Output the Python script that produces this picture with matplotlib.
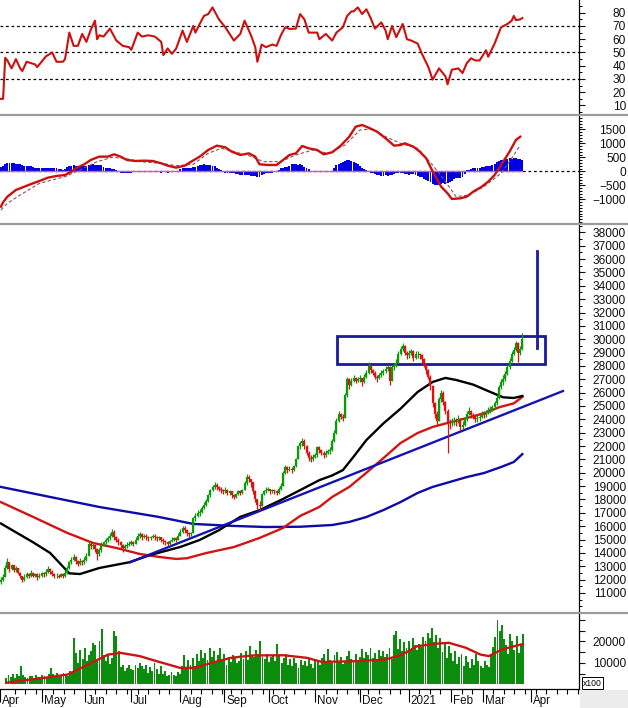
import numpy as np
import pandas as pd
import matplotlib
matplotlib.use('Agg')
import matplotlib.pyplot as plt
import matplotlib.transforms as mtransforms
from matplotlib.patches import Rectangle
from matplotlib.lines import Line2D
from matplotlib.ticker import MultipleLocator

plt.rcParams['font.family'] = ['Liberation Sans', 'DejaVu Sans']

# trading calendar, index 0 = 2020-04-01 (market holidays removed)
holidays = ['2020-04-02', '2020-04-30', '2020-05-01', '2020-09-02', '2021-01-01',
            '2021-02-10', '2021-02-11', '2021-02-12', '2021-02-15', '2021-02-16']
month_starts = ['2020-04', '2020-05', '2020-06', '2020-07', '2020-08', '2020-09', '2020-10',
                '2020-11', '2020-12', '2021-01', '2021-02', '2021-03', '2021-04']
month_labels = ['Apr', 'May', 'Jun', 'Jul', 'Aug', 'Sep', 'Oct', 'Nov', 'Dec', '2021', 'Feb', 'Mar', 'Apr']
first_day = 3  # first bar = 2020-04-07

# daily prices (thousands)
closes = [12.0, 12.2, 12.9, 13.3, 12.8, 13.1, 12.7, 12.9, 12.5, 12.3,
          12.0, 12.2, 12.4, 12.3, 12.5, 12.3, 12.4, 12.2, 12.3, 12.5,
          12.4, 12.6, 12.8, 12.6, 12.4, 12.3, 12.3, 12.2, 12.4, 12.3,
          12.5, 12.9, 13.3, 13.5, 13.7, 13.4, 13.2, 13.4, 13.3, 13.5,
          13.8, 14.7, 14.5, 14.6, 14.3, 13.9, 14.2, 14.6, 14.8, 15.0,
          15.1, 15.3, 15.6, 15.2, 15.0, 14.8, 14.6, 14.4, 14.5, 14.6,
          14.7, 14.8, 14.7, 15.0, 15.3, 15.4, 15.2, 15.3, 15.2, 15.1,
          15.2, 15.3, 15.2, 15.1, 15.2, 15.0, 14.9, 14.8, 14.7, 14.9,
          15.0, 15.1, 15.0, 15.3, 15.6, 15.9, 15.7, 15.5, 15.4, 15.5,
          16.6, 16.8, 17.0, 17.1, 17.4, 17.6, 17.9, 18.3, 18.7, 18.9,
          19.1, 18.9, 18.8, 18.7, 18.6, 18.7, 18.5, 18.6, 18.3, 18.2,
          18.4, 18.6, 18.5, 18.7, 19.2, 19.7, 19.5, 19.3, 18.6, 18.0,
          17.6, 17.5, 18.4, 18.6, 18.7, 18.8, 18.6, 18.7, 18.6, 18.5,
          18.8, 19.0, 20.0, 20.4, 20.2, 20.3, 20.2, 20.5, 21.0, 22.0,
          22.2, 22.4, 22.0, 21.5, 21.1, 21.0, 21.2, 21.3, 21.9, 21.7,
          21.5, 21.3, 21.5, 21.6, 21.7, 22.4, 23.0, 23.9, 24.4, 24.2,
          24.1, 25.8, 27.0, 26.6, 26.9, 27.1, 26.9, 27.0, 27.1, 26.8,
          27.2, 27.5, 28.0, 27.7, 27.5, 27.2, 27.1, 27.3, 27.5, 27.6,
          27.8, 27.9, 26.9, 27.9, 28.0, 28.2, 28.9, 29.3, 29.5, 29.0,
          28.8, 29.0, 29.1, 28.6, 28.9, 28.9, 28.8, 28.5, 28.1, 27.7,
          27.2, 26.5, 25.2, 24.4, 23.9, 25.5, 26.0, 25.3, 24.6, 23.8,
          23.7, 23.8, 23.9, 23.8, 24.0, 23.4, 23.6, 24.0, 24.4, 24.6,
          24.3, 24.2, 24.0, 24.1, 24.2, 24.4, 24.3, 24.5, 24.7, 24.8,
          24.9, 25.2, 25.6, 26.4, 26.8, 27.0, 27.4, 27.9, 28.4, 28.9,
          29.2, 29.7, 29.0, 29.3, 30.0]
highs = [12.2, 12.4, 13.1, 13.6, 13.3, 13.2, 13.1, 13.0, 12.9, 12.6,
         12.3, 12.4, 12.6, 12.5, 12.7, 12.6, 12.5, 12.5, 12.5, 12.6,
         12.6, 12.8, 13.0, 12.9, 12.7, 12.5, 12.5, 12.4, 12.5, 12.5,
         12.7, 13.0, 13.4, 13.7, 13.9, 13.8, 13.5, 13.6, 13.5, 13.7,
         14.0, 14.9, 14.9, 14.8, 14.7, 14.4, 14.4, 14.8, 14.9, 15.1,
         15.3, 15.5, 15.8, 15.7, 15.3, 15.1, 14.9, 14.7, 14.7, 14.8,
         14.9, 15.0, 14.9, 15.2, 15.5, 15.6, 15.5, 15.4, 15.4, 15.3,
         15.3, 15.4, 15.4, 15.3, 15.3, 15.2, 15.1, 15.0, 14.9, 15.0,
         15.2, 15.2, 15.2, 15.5, 15.8, 16.0, 16.0, 15.8, 15.6, 15.6,
         16.7, 17.0, 17.2, 17.3, 17.5, 17.8, 18.0, 18.4, 18.8, 19.1,
         19.3, 19.2, 19.0, 18.9, 18.8, 18.9, 18.8, 18.7, 18.6, 18.4,
         18.5, 18.7, 18.7, 18.8, 19.4, 19.9, 19.8, 19.5, 19.3, 18.7,
         18.0, 17.9, 18.5, 18.7, 18.9, 18.9, 18.8, 18.8, 18.8, 18.7,
         18.9, 19.2, 20.1, 20.6, 20.5, 20.5, 20.4, 20.6, 21.1, 22.1,
         22.4, 22.6, 22.5, 22.1, 21.6, 21.3, 21.4, 21.5, 22.0, 22.0,
         21.8, 21.6, 21.7, 21.8, 21.9, 22.5, 23.2, 24.1, 24.6, 24.5,
         24.4, 26.0, 27.2, 27.1, 27.1, 27.3, 27.2, 27.2, 27.3, 27.1,
         27.4, 27.7, 28.3, 28.1, 27.8, 27.6, 27.3, 27.5, 27.7, 27.8,
         28.0, 28.1, 28.0, 28.1, 28.2, 28.5, 29.1, 29.5, 29.7, 29.6,
         29.1, 29.2, 29.3, 29.2, 29.1, 29.1, 29.0, 28.9, 28.6, 28.2,
         27.8, 27.3, 26.6, 25.3, 24.6, 25.7, 26.2, 26.1, 25.4, 24.8,
         24.0, 24.1, 24.2, 24.1, 24.3, 24.1, 23.9, 24.2, 24.6, 24.9,
         24.7, 24.5, 24.3, 24.3, 24.4, 24.6, 24.6, 24.7, 24.9, 25.0,
         25.1, 25.4, 25.8, 26.6, 27.0, 27.3, 27.6, 28.1, 28.6, 29.1,
         29.4, 29.9, 29.8, 29.5, 30.5]
lows = [11.7, 11.9, 12.2, 12.8, 12.6, 12.7, 12.6, 12.6, 12.4, 12.1,
        11.8, 11.9, 12.1, 12.1, 12.2, 12.2, 12.2, 12.0, 12.1, 12.2,
        12.2, 12.3, 12.5, 12.4, 12.3, 12.1, 12.1, 12.1, 12.2, 12.1,
        12.2, 12.4, 12.8, 13.2, 13.4, 13.2, 13.0, 13.1, 13.1, 13.2,
        13.4, 13.8, 14.3, 14.3, 14.1, 13.5, 13.8, 14.1, 14.5, 14.7,
        14.8, 15.0, 15.2, 15.0, 14.8, 14.6, 14.4, 14.1, 14.2, 14.4,
        14.5, 14.6, 14.5, 14.7, 15.0, 15.1, 15.0, 15.1, 15.0, 14.9,
        15.0, 15.1, 15.0, 14.9, 15.0, 14.8, 14.7, 14.6, 14.5, 14.6,
        14.8, 14.9, 14.8, 15.0, 15.3, 15.5, 15.5, 15.3, 15.2, 15.3,
        15.5, 16.4, 16.7, 16.8, 17.0, 17.3, 17.5, 17.8, 18.2, 18.6,
        18.8, 18.7, 18.6, 18.5, 18.4, 18.5, 18.3, 18.3, 18.1, 18.0,
        18.1, 18.3, 18.3, 18.4, 18.7, 19.1, 19.3, 18.9, 18.4, 17.8,
        17.3, 17.2, 17.5, 18.3, 18.5, 18.6, 18.4, 18.5, 18.4, 18.3,
        18.4, 18.7, 19.0, 19.9, 20.0, 20.1, 20.0, 20.1, 20.4, 21.0,
        21.8, 22.0, 21.8, 21.3, 20.9, 20.8, 20.9, 21.1, 21.2, 21.5,
        21.3, 21.1, 21.2, 21.4, 21.4, 21.6, 22.3, 22.9, 23.8, 24.0,
        23.9, 24.1, 25.7, 26.3, 26.5, 26.8, 26.7, 26.8, 26.8, 26.5,
        26.7, 27.1, 27.4, 27.5, 27.3, 27.0, 26.8, 27.0, 27.2, 27.3,
        27.5, 27.6, 26.6, 26.9, 27.7, 27.9, 28.2, 28.8, 29.1, 28.8,
        28.5, 28.6, 28.8, 28.4, 28.5, 28.6, 28.5, 28.2, 27.9, 27.4,
        27.0, 26.2, 24.9, 24.1, 23.6, 23.9, 25.3, 25.1, 24.4, 21.5,
        23.3, 23.5, 23.6, 23.5, 23.7, 23.2, 23.3, 23.5, 23.9, 24.3,
        24.1, 24.0, 23.8, 23.8, 23.9, 24.1, 24.1, 24.2, 24.4, 24.5,
        24.6, 24.8, 25.1, 25.5, 26.3, 26.6, 26.9, 27.3, 27.8, 28.3,
        28.8, 29.1, 28.3, 28.8, 29.2]

# daily volume (x100, thousands)
volumes = [3.0, 4.2, 3.5, 4.8, 3.2, 5.0, 4.0, 8.5, 4.4, 3.6,
           3.0, 4.1, 3.8, 2.9, 4.5, 3.7, 3.3, 4.6, 3.9, 3.4,
           4.8, 7.7, 4.9, 3.8, 5.3, 4.2, 3.9, 5.5, 4.6, 4.1,
           6.2, 5.4, 21.7, 14.5, 9.8, 16.2, 12.0, 17.0, 10.8, 13.5,
           15.5, 19.5, 18.6, 11.2, 20.0, 25.6, 13.8, 11.0, 14.0, 9.5,
           12.4, 24.8, 22.5, 15.6, 8.2, 9.3, 6.5, 7.8, 8.9, 7.2,
           6.8, 9.0, 7.5, 10.0, 8.4, 7.0, 9.3, 5.5, 8.0, 6.3,
           10.0, 7.4, 4.7, 8.6, 5.0, 6.2, 3.9, 4.5, 5.8, 4.2,
           3.9, 6.0, 5.1, 8.7, 13.8, 7.7, 11.2, 9.0, 12.5, 8.4,
           14.0, 10.9, 16.0, 12.2, 14.7, 11.5, 17.0, 13.0, 15.8, 10.9,
           13.6, 17.2, 11.5, 14.0, 9.3, 12.8, 10.6, 13.5, 12.1, 9.8,
           11.0, 14.5, 12.0, 15.6, 11.2, 17.8, 13.4, 12.6, 16.0, 14.2,
           20.1, 13.0, 11.8, 14.0, 10.4, 12.6, 13.8, 11.0, 18.9, 13.2,
           10.2, 12.5, 14.0, 9.1, 11.8, 8.7, 12.4, 10.0, 7.7, 11.5,
           9.2, 10.8, 8.4, 12.0, 9.6, 7.9, 11.1, 10.3, 9.3, 12.2,
           14.0, 10.6, 16.3, 11.2, 9.8, 13.5, 15.0, 10.4, 12.8, 9.5,
           11.0, 13.2, 15.8, 12.0, 10.7, 14.4, 11.6, 13.0, 16.3, 12.4,
           15.0, 13.6, 17.0, 12.2, 14.5, 11.6, 16.0, 13.2, 15.4, 12.8,
           14.2, 17.0, 11.8, 23.0, 24.8, 16.5, 21.0, 15.5, 19.6, 17.2,
           20.0, 16.0, 21.7, 18.4, 15.9, 19.0, 17.5, 22.2, 20.0, 24.0,
           21.4, 26.4, 19.6, 23.0, 16.8, 21.7, 15.0, 19.8, 12.4, 18.0,
           14.8, 11.0, 15.5, 9.6, 12.6, 14.0, 8.5, 13.2, 10.4, 7.7,
           12.0, 9.2, 14.4, 11.0, 8.5, 7.7, 10.9, 9.0, 8.2, 14.0,
           17.5, 22.0, 30.2, 24.8, 27.9, 21.0, 18.5, 14.0, 23.3, 20.0,
           16.2, 22.5, 14.5, 19.0, 23.3]

# MACD histogram, daily
macd_hist = [170, 180, 260, 290, 300, 295, 290, 285, 280, 260,
             230, 210, 200, 205, 190, 160, 140, 135, 140, 130,
             135, 140, 130, 135, 140, 130, 120, 100, 80, 70,
             80, 150, 210, 200, 215, 205, 200, 210, 215, 205,
             210, 220, 240, 250, 240, 230, 235, 220, 150, 120,
             110, 115, 100, 90, 60, 20, -40, -60, -70, -55,
             -50, -40, -10, 20, 25, 30, 20, 25, 20, 15,
             20, 10, 0, -10, -30, -40, -35, -30, -40, -35,
             -30, -20, -10, 20, 80, 130, 140, 135, 130, 140,
             150, 170, 200, 230, 240, 250, 230, 220, 235, 210,
             180, 120, 100, 40, -20, -50, -60, -55, -70, -60,
             -80, -100, -120, -140, -120, -110, -130, -150, -160, -170,
             -180, -190, -120, -80, -60, -50, -40, -60, -30, 0,
             60, 110, 140, 150, 160, 200, 250, 270, 260, 240,
             250, 230, 150, 110, 80, 20, -10, -20, -30, -20,
             -25, -30, -20, -15, -10, 30, 120, 230, 260, 300,
             350, 390, 410, 400, 380, 340, 320, 280, 200, 120,
             100, 60, 10, -40, -60, -80, -120, -140, -150, -145,
             -140, -150, -130, -110, -90, -70, -60, -50, -40, -80,
             -100, -110, -100, -90, -130, -170, -180, -200, -260, -300,
             -330, -380, -430, -480, -500, -470, -440, -420, -430, -400,
             -380, -330, -280, -250, -240, -220, -200, -100, 40, 70,
             90, 110, 130, 140, 135, 150, 170, 190, 200, 210,
             220, 250, 330, 380, 400, 420, 440, 450, 470, 460,
             470, 480, 450, 430, 400]

# moving averages read at chosen days
ma_black_days = [3, 18, 26, 35, 40, 49, 63, 73, 87, 96, 105, 115, 124, 134, 143, 152, 158, 163,
                 168, 174, 182, 190, 198, 205, 211, 216, 224, 232, 238, 243, 247]
ma_black = [16200, 14800, 14000, 12470, 12420, 12870, 13300, 13850, 14450, 14970, 15700, 16700,
            17200, 17960, 18700, 19450, 19800, 20200, 21200, 22450, 23700, 24800, 26050, 26800,
            27100, 26950, 26600, 26050, 25650, 25600, 25750]
ma_red_days = [3, 18, 34, 46, 57, 68, 77, 85, 90, 99, 112, 124, 135, 143, 152, 158, 166, 174,
               182, 190, 198, 205, 212, 221, 230, 236, 243, 247]
ma_red = [17800, 16700, 15500, 14750, 14370, 13920, 13700, 13550, 13600, 13990, 14440, 15120,
          15870, 16770, 17440, 18190, 18940, 20000, 21100, 22230, 22980, 23430, 23730, 24100,
          24500, 24900, 25200, 25680]
ma_blue_days = [3, 49, 77, 93, 112, 127, 143, 158, 166, 174, 182, 190, 198, 205, 213, 221, 229,
                237, 243, 247]
ma_blue = [18940, 17440, 16690, 16170, 16020, 15940, 15960, 16090, 16320, 16690, 17210, 17810,
           18490, 18940, 19310, 19680, 19980, 20430, 20810, 21400]
vol_ma_days = [3, 21, 32, 40, 51, 57, 66, 74, 85, 92, 100, 109, 119, 134, 145, 152, 168, 182,
               190, 197, 205, 212, 220, 227, 231, 237, 246, 247]
vol_ma = [800, 3100, 4650, 8500, 13900, 14700, 13200, 10850, 7750, 7750, 10080, 12400, 13500,
          13600, 12400, 10500, 10850, 11600, 13900, 17800, 18900, 19400, 17100, 13900, 13200,
          16300, 18600, 18700]

# RSI
rsi_days = [3, 4, 5, 6, 8, 10, 12, 13, 15, 17, 19, 20, 22, 24, 26, 27, 29, 32, 33, 35, 37, 39,
            41, 43, 45, 47, 48, 49, 51, 54, 57, 60, 63, 64, 67, 69, 72, 75, 78, 79, 81, 83, 85,
            88, 90, 93, 94, 96, 98, 100, 102, 105, 108, 110, 112, 115, 117, 120, 122, 123, 125,
            127, 130, 132, 134, 136, 138, 141, 143, 145, 147, 151, 152, 155, 158, 160, 163, 165,
            167, 168, 170, 172, 174, 176, 178, 181, 183, 184, 186, 188, 191, 193, 195, 198, 200,
            203, 205, 208, 211, 212, 214, 217, 219, 221, 223, 225, 227, 230, 231, 234, 237, 240,
            242, 243, 244, 246, 247]
rsi = [15, 15, 46, 44, 38, 45, 38, 36, 43, 42, 41, 39, 43, 47, 49, 50, 43, 43, 45, 65, 55, 55,
       64, 58, 67, 74, 60, 63, 62, 68, 59, 55, 54, 52, 65, 62, 63, 62, 58, 48, 53, 49, 53,
       66.5, 58, 70, 65, 71.5, 77.6, 79, 84, 75, 69, 64, 59, 64, 74, 63, 54, 43, 56,
       54, 56, 55, 63, 69, 67.8, 68, 79, 75, 65, 65, 60, 64, 59, 65, 69, 77.6,
       81, 81, 84, 79, 82.6, 76, 68, 72.7, 66.5, 60, 70, 61.6, 71.5, 60, 59, 56.7, 49,
       39, 29.5, 38, 32, 26, 37, 38, 34.5, 42, 45.6, 44, 44, 51.7, 46.8, 56.7, 69, 71.5,
       74, 77.6, 74.4, 75, 76]

# MACD and signal lines
macd_days = [3, 4, 6, 10, 14, 18, 21, 25, 29, 33, 36, 38, 42, 45, 49, 53, 56, 59, 62, 66, 70,
             74, 78, 81, 85, 89, 92, 96, 100, 104, 108, 111, 115, 119, 122, 124, 128, 132, 135,
             138, 141, 144, 147, 151, 154, 158, 162, 166, 169, 172, 175, 179, 183, 187, 190, 192,
             196, 199, 202, 205, 209, 212, 214, 218, 221, 224, 228, 231, 234, 237, 241, 244, 246]
macd = [-1256, -1100, -900, -660, -540, -422, -339, -220, -160, -125, -6, 113, 256, 410, 530,
        530, 613, 530, 410, 375, 387, 375, 292, 208, 137, 208, 351, 530, 768, 922, 863, 708,
        589, 648, 530, 256, 232, 232, 410, 589, 648, 910, 827, 768, 613, 684, 922, 1243, 1600,
        1660, 1565, 1422, 1184, 922, 946, 1006, 886, 708, 470, 6, -542, -780, -982, -958, -898,
        -720, -542, -363, -125, 232, 708, 1125, 1243]
signal_days = [3, 6, 12, 21, 33, 40, 48, 55, 61, 68, 78, 85, 93, 100, 106, 111, 119, 126, 134,
               141, 149, 156, 164, 171, 177, 183, 190, 198, 205, 211, 216, 222, 229, 237, 242, 246]
signal = [-1375, -1137, -839, -422, -184, 54, 351, 506, 470, 351, 292, 208, 256, 648, 827, 732,
          565, 351, 351, 589, 768, 648, 946, 1481, 1517, 1243, 1006, 827, 232, -363, -898, -839,
          -542, -65, 470, 946]

# annotation lines drawn on the price panel
trend_days = [63.4, 266.0]
trend_prices = [13300, 26120]
box_days = [160.3, 257.6]
box_prices = [28150, 30250]
target_day = 253.9
target_prices = [29340, 36600]

# ---------------------------------------------------------------------------
cal = pd.bdate_range('2020-04-01', '2021-05-31')
cal = cal[~cal.isin(pd.to_datetime(holidays))]
month_idx = [int(np.searchsorted(cal, pd.Timestamp(m + '-01'))) for m in month_starts]
week_idx = [i for i in range(1, len(cal)) if cal[i].weekday() < cal[i - 1].weekday()]

n = len(closes)
days = np.arange(first_day, first_day + n)
c = np.array(closes) * 1000
h = np.array(highs) * 1000
l = np.array(lows) * 1000
o = np.concatenate([[11800], c[:-1]])
up = c >= o

W, H = 628, 708
XLIM = (2.56, 273.5)
fig = plt.figure(figsize=(W / 100, H / 100), dpi=100)


def panel(top, bottom):
    ax = fig.add_axes([0, 1 - bottom / H, 579 / W, (bottom - top) / H])
    ax.set_xlim(*XLIM)
    for s in ['left', 'top', 'bottom']:
        ax.spines[s].set_visible(False)
    ax.spines['right'].set_linewidth(0.9)
    ax.yaxis.tick_right()
    ax.tick_params(axis='y', which='major', direction='out', length=4, width=0.8,
                   labelsize=8.6, pad=29.8, colors='#111111')
    ax.tick_params(axis='y', which='minor', direction='out', length=2.2, width=0.7)
    ax.set_xticks([])
    return ax


def right_align(ax):
    for t in ax.get_yticklabels():
        t.set_horizontalalignment('right')


ax_rsi = panel(0, 113.5)
ax_macd = panel(116, 223)
ax_px = panel(225, 612)
ax_vol = panel(614, 689)

# RSI
ax_rsi.set_ylim(3.96, 89.6)
for lvl in [30, 50, 70]:
    ax_rsi.axhline(lvl, color='black', lw=0.9, ls=(0, (2.2, 2.2)))
ax_rsi.plot(rsi_days, rsi, color='#cc1010', lw=1.5)
ax_rsi.set_yticks(range(10, 90, 10))
ax_rsi.yaxis.set_minor_locator(MultipleLocator(5))
right_align(ax_rsi)

# MACD
ax_macd.set_ylim(-1839, 1981)
ax_macd.axhline(0, color='black', lw=0.9, ls=(0, (2.2, 2.2)))
ax_macd.bar(days, macd_hist, width=0.9, color='#0000e6', linewidth=0)
ax_macd.plot([days[0], days[-1]], [0, 0], color='#e050c8', lw=1.0)
ax_macd.plot(signal_days, signal, color='#905050', lw=0.8, ls=(0, (3, 2)))
ax_macd.plot(macd_days, macd, color='#cc1010', lw=1.7)
ax_macd.set_yticks([-1000, -500, 0, 500, 1000, 1500])
ax_macd.yaxis.set_minor_locator(MultipleLocator(100))
right_align(ax_macd)

# price
ax_px.set_ylim(9577, 38551)
ax_px.plot(ma_blue_days, ma_blue, color='#0c0ca8', lw=1.7)
ax_px.plot(ma_red_days, ma_red, color='#d41414', lw=1.7)
ax_px.plot(ma_black_days, ma_black, color='black', lw=1.7)
ax_px.plot(trend_days, trend_prices, color='#1414b4', lw=1.7)
col = np.where(up, '#0a9a0a', '#e01010')
ax_px.vlines(days, l, h, colors=col, lw=0.9)
ax_px.vlines(days, np.minimum(o, c), np.maximum(o, c), colors=col, lw=1.6)
ax_px.add_patch(Rectangle((box_days[0], box_prices[0]), box_days[1] - box_days[0],
                          box_prices[1] - box_prices[0], fill=False, ec='#1a1aa0', lw=2))
ax_px.plot([target_day, target_day], target_prices, color='#1a1aa0', lw=2)
ax_px.set_yticks(range(11000, 38001, 1000))
ax_px.yaxis.set_minor_locator(MultipleLocator(500))
right_align(ax_px)

# volume
vol = np.array(volumes) * 1000
ax_vol.set_ylim(-2093, 32790)
ax_vol.bar(days, vol, width=0.9, color='#0c8c0c', linewidth=0)
ax_vol.plot(vol_ma_days, vol_ma, color='#cc1414', lw=1.7)
ax_vol.set_yticks(range(5000, 30001, 5000))
ax_vol.set_yticklabels(['', '10000', '', '20000', '', ''])
right_align(ax_vol)
ax_vol.spines['bottom'].set_visible(True)
ax_vol.spines['bottom'].set_linewidth(0.9)
ax_vol.set_xticks(month_idx)
ax_vol.set_xticklabels([])
ax_vol.set_xticks([w for w in week_idx if XLIM[0] < w < XLIM[1]], minor=True)
ax_vol.tick_params(axis='x', which='major', direction='out', length=9.5, width=0.8)
ax_vol.tick_params(axis='x', which='minor', direction='out', length=3.5, width=0.8)
trans = mtransforms.blended_transform_factory(ax_vol.transData, ax_vol.transAxes)
for mi, lab in zip(month_idx, month_labels):
    ax_vol.text(mi + 0.9, -0.205, lab, transform=trans, ha='left', va='baseline',
                fontsize=8.4, color='#111111', clip_on=False)

# panel separators and corner decorations
for yy in [114.8, 224, 613]:
    fig.add_artist(Line2D([0, 1], [1 - yy / H] * 2, color='#9c9c9c', lw=1.6))
fig.add_artist(Rectangle((580 / W, 0), 48 / W, 18 / H, transform=fig.transFigure,
                         fc='#ececec', ec='none'))
fig.text(583 / W, 1 - 683 / H, 'x100', fontsize=6.2, va='center', ha='left',
         bbox=dict(boxstyle='square,pad=0.15', fc='white', ec='black', lw=0.7))

fig.savefig('out.png', dpi=100)
